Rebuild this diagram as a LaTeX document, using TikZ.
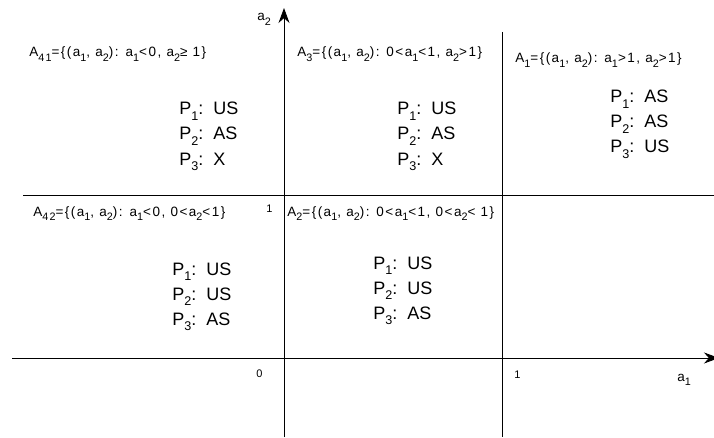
\documentclass[tikz,border=0pt]{standalone}
\usepackage{fontspec}
\setmainfont{Liberation Sans}
\newfontfamily\setfont[LetterSpace=11]{Liberation Sans}
\usetikzlibrary{arrows.meta}
\newcommand{\sbs}[1]{\raisebox{-0.33em}{\scalebox{0.8}{#1}}}
\newcommand{\psb}[1]{\raisebox{-0.33em}{\scalebox{0.7}{#1}}}
\tikzset{regplot/.style={x=1pt,y=1pt,line width=0.8pt},
  settext/.style={anchor=base west,inner sep=0pt,font=\setfont\fontsize{13.5}{16}\selectfont},
  tick/.style={anchor=base west,inner sep=0pt,font=\fontsize{11}{13}\selectfont},
  plist/.style={anchor=base west,inner sep=0pt,font=\fontsize{18}{22}\selectfont},
  axistip/.style={-{Stealth[length=15pt,width=11pt]}}}

\begin{document}
\begin{tikzpicture}[regplot]
    \useasboundingbox (0,0) rectangle (714,437);
    % axes and region borders
    \coordinate (o) at (284,79);
    \draw[axistip] (284,0) -- (284,429);
    \draw[axistip] (12,79) -- (719,79);
    \draw (23,242) -- (714,242);
    \draw (502,405) -- (502,0);
    \node[settext] (ay) at (257,416) {a\sbs{2}};
    \node[settext] (ax) at (677,56) {a\sbs{1}};
    \node[tick] (zero) at (256,60) {0};
    \node[tick] (onex) at (514,59) {1};
    \node[tick] (oney) at (266,225) {1};
    % region definitions
    \node[settext] (a41) at (29,380) {A\sbs{41}=\{(a\sbs{1}, a\sbs{2}): a\sbs{1}<0, a\sbs{2}≥ 1\}};
    \node[settext] (a3) at (297,380) {A\sbs{3}=\{(a\sbs{1}, a\sbs{2}): 0<a\sbs{1}<1, a\sbs{2}>1\}};
    \node[settext] (a1) at (515,374) {A\sbs{1}=\{(a\sbs{1}, a\sbs{2}): a\sbs{1}>1, a\sbs{2}>1\}};
    \node[settext] (a42) at (33,221) {A\sbs{42}=\{(a\sbs{1}, a\sbs{2}): a\sbs{1}<0, 0<a\sbs{2}<1\}};
    \node[settext] (a2) at (287,221) {A\sbs{2}=\{(a\sbs{1}, a\sbs{2}): 0<a\sbs{1}<1, 0<a\sbs{2}< 1\}};
    % strategies of the players
    \foreach \v [count=\i] in {US,AS,X}
      \node[plist] (pfl\i) at (179,{322-25*(\i-1)}) {P\psb{\i}:~~\v};
    \foreach \v [count=\i] in {US,AS,X}
      \node[plist] (pth\i) at (397,{322-25*(\i-1)}) {P\psb{\i}:~~\v};
    \foreach \v [count=\i] in {AS,AS,US}
      \node[plist] (pon\i) at (610,{334-25*(\i-1)}) {P\psb{\i}:~~\v};
    \foreach \v [count=\i] in {US,US,AS}
      \node[plist] (pft\i) at (172,{162-25*(\i-1)}) {P\psb{\i}:~~\v};
    \foreach \v [count=\i] in {US,US,AS}
      \node[plist] (ptw\i) at (373,{168-25*(\i-1)}) {P\psb{\i}:~~\v};
\end{tikzpicture}
\end{document}
